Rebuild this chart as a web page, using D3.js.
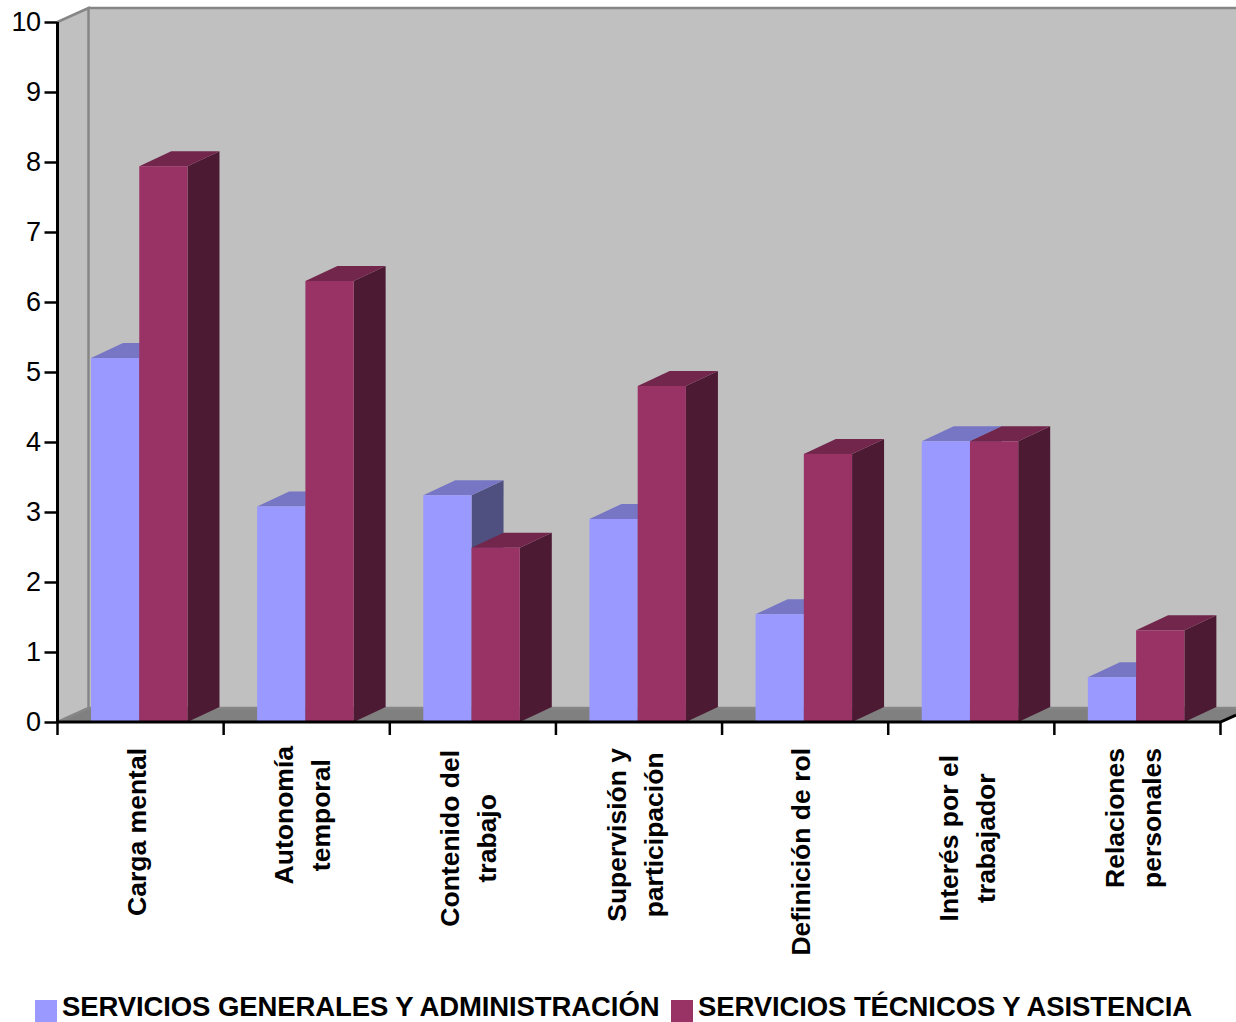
<!DOCTYPE html>
<html>
<head>
<meta charset="utf-8">
<script src="https://cdn.jsdelivr.net/npm/d3@7"></script>
<style>
  html, body { margin: 0; padding: 0; background: #fff; overflow: hidden; }
  text { font-family: "Liberation Sans", Arial, sans-serif; fill: #000; }
</style>
</head>
<body>
<div class="main"></div>
<script>
////Data
const categories = ['Carga mental', 'Autonomía temporal', 'Contenido del trabajo', 'Supervisión y participación', 'Definición de rol', 'Interés por el trabajador', 'Relaciones personales'];
const labelLines = [['Carga mental'], ['Autonomía', 'temporal'], ['Contenido del', 'trabajo'], ['Supervisión y', 'participación'], ['Definición de rol'], ['Interés por el', 'trabajador'], ['Relaciones', 'personales']];
const seriesNames = ['SERVICIOS GENERALES Y ADMINISTRACIÓN', 'SERVICIOS TÉCNICOS Y ASISTENCIA'];
const generales = [5.2, 3.08, 3.24, 2.9, 1.54, 4.01, 0.64];
const tecnicos = [7.94, 6.3, 2.49, 4.8, 3.83, 4.01, 1.31];
const yTicks = [0, 1, 2, 3, 4, 5, 6, 7, 8, 9, 10];

////Global Variables
const width = 1236;
const height = 1022;
const left = 57.5;
const right = 1220.5;
const top10 = 22;
const bottom = 722;
const depthX = 31;
const depthY = 14;
const barDepthX = 32;
const barDepthY = 15;
const colors = [
  { front: '#9999ff', top: '#7676c4', side: '#4f4f80' },
  { front: '#993366', top: '#72264c', side: '#4c1a33' }
];

const svg = d3.select('.main').append('svg')
  .attr('width', width)
  .attr('height', height)
  .style('display', 'block');

const xScale = d3.scaleBand().domain(categories).range([left, right]);
const yScale = d3.scaleLinear().domain([0, 10]).range([bottom, top10]);
const seriesScale = d3.scaleBand().domain([0, 1]).range([33.5, 130]);

function poly(points, fill, stroke) {
  svg.append('polygon')
    .attr('points', points.map(p => p.join(',')).join(' '))
    .attr('fill', fill)
    .attr('stroke', stroke || 'none');
}

////Walls and floor
const pad = 40; // walls run off the right edge
poly([[left, top10], [left + depthX, top10 - depthY], [left + depthX, bottom - depthY], [left, bottom]], '#c0c0c0');
poly([[left + depthX, top10 - depthY], [width + pad, top10 - depthY], [width + pad, bottom - depthY], [left + depthX, bottom - depthY]], '#c0c0c0');
poly([[left, bottom], [left + depthX, bottom - depthY], [right + depthX, bottom - depthY], [right, bottom]], '#808080');

svg.append('path')
  .attr('d', `M${left},${top10}L${left + depthX},${top10 - depthY}V${bottom - depthY}M${left + depthX},${top10 - depthY}H${width}M${left + depthX},${bottom - depthY}H${width}M${left},${bottom}L${left + depthX},${bottom - depthY}`)
  .attr('fill', 'none')
  .attr('stroke', '#868686')
  .attr('stroke-width', 2.5);

////Bars, first series under the second in each group
categories.forEach((c, i) => {
  [generales[i], tecnicos[i]].forEach((v, s) => {
    const x0 = xScale(c) + seriesScale(s);
    const x1 = x0 + seriesScale.bandwidth();
    const y = yScale(v);
    poly([[x1, y], [x1 + barDepthX, y - barDepthY], [x1 + barDepthX, bottom - barDepthY], [x1, bottom]], colors[s].side);
    poly([[x0, y], [x0 + barDepthX, y - barDepthY], [x1 + barDepthX, y - barDepthY], [x1, y]], colors[s].top);
    svg.append('rect')
      .attr('x', x0)
      .attr('y', y)
      .attr('width', x1 - x0)
      .attr('height', bottom - y)
      .attr('fill', colors[s].front);
  });
});

////Axes
const yAxis = d3.axisLeft(yScale).tickValues(yTicks).tickSize(13).tickPadding(4);
const yG = svg.append('g')
  .attr('transform', `translate(${left}, 0)`)
  .call(yAxis);
yG.selectAll('text').style('font-size', '27px').style('letter-spacing', '-0.5px');
yG.selectAll('line').attr('stroke', '#000').attr('stroke-width', 2.5);
yG.select('.domain').attr('stroke', '#000').attr('stroke-width', 3).attr('d', `M0,${top10}V${bottom}`);

const xG = svg.append('g');
xG.append('path')
  .attr('d', `M${left},${bottom}H${right}L${width},${bottom - 7}`)
  .attr('fill', 'none')
  .attr('stroke', '#000')
  .attr('stroke-width', 3);
xG.selectAll('line')
  .data(categories.concat(['end']))
  .enter()
  .append('line')
  .attr('x1', d => d === 'end' ? right : xScale(d))
  .attr('x2', d => d === 'end' ? right : xScale(d))
  .attr('y1', bottom)
  .attr('y2', bottom + 13)
  .attr('stroke', '#000')
  .attr('stroke-width', 2.5);

////Rotated category labels, centred on the longest line
const labelTops = [748, 746, 750, 748, 748, 755, 748];
const lineGap = 37;
labelLines.forEach((lines, i) => {
  const cx = xScale(categories[i]) + xScale.bandwidth() / 2 - 4;
  const g = svg.append('g');
  const texts = lines.map(line => g.append('text')
    .attr('text-anchor', 'middle')
    .style('font-size', '26.5px')
    .style('font-weight', 'bold')
    .text(line));
  const longest = d3.max(texts, t => t.node().getComputedTextLength());
  const cy = labelTops[i] + longest / 2;
  texts.forEach((t, k) => {
    const x = cx + (k - (lines.length - 1) / 2) * lineGap + 9;
    t.attr('transform', `translate(${x}, ${cy}) rotate(-90)`);
  });
});

////Legend
const legendX = [35, 671];
seriesNames.forEach((name, s) => {
  svg.append('rect')
    .attr('x', legendX[s])
    .attr('y', 1000)
    .attr('width', 22)
    .attr('height', 22)
    .attr('fill', colors[s].front);
  svg.append('text')
    .attr('x', legendX[s] + 27)
    .attr('y', 1016)
    .style('font-size', '27.5px')
    .style('font-weight', 'bold')
    .style('letter-spacing', '-0.1px')
    .text(name);
});
</script>
</body>
</html>
